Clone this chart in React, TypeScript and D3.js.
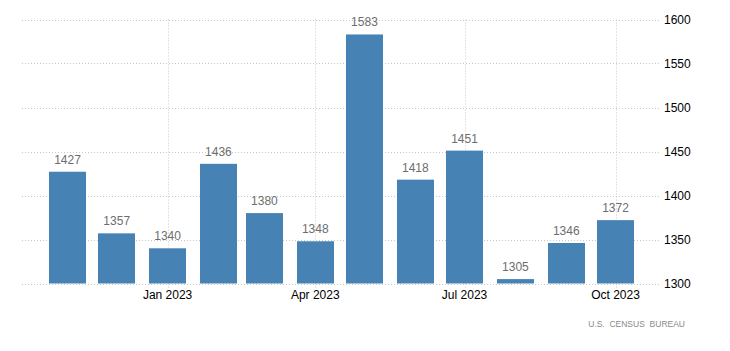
import React from "react";
import * as d3 from "d3";

const months = ["2022-11-01","2022-12-01","2023-01-01","2023-02-01","2023-03-01","2023-04-01","2023-05-01","2023-06-01","2023-07-01","2023-08-01","2023-09-01","2023-10-01"];
const values = [1427,1357,1340,1436,1380,1348,1583,1418,1451,1305,1346,1372];
const xTicks = ["2023-01-01","2023-04-01","2023-07-01","2023-10-01"];
const xTickLabels = ["Jan 2023","Apr 2023","Jul 2023","Oct 2023"];
const yTicks = [1300,1350,1400,1450,1500,1550,1600];
const source = "U.S.  CENSUS  BUREAU";

const W = 730, H = 351;
const FONT = "Arial, 'Liberation Sans', sans-serif";
const parse = d3.utcParse("%Y-%m-%d");

export default function App() {
  const x = d3.scaleUtc().domain([parse(months[0])!, parse(months[months.length - 1])!]).range([67.5, 615.5]);
  const y = d3.scaleLinear().domain([1300, 1600]).range([283.5, 19.5]);
  const bw = 37;
  const gridX0 = 22, gridX1 = 660;
  return (
    <svg width={W} height={H} style={{ position: "absolute", left: 0, top: 0, background: "#fff" }}>
      <g>
        {yTicks.map((t) => (
          <line key={t} x1={gridX0} x2={gridX1} y1={Math.round(y(t)) + 0.5} y2={Math.round(y(t)) + 0.5}
            stroke="#c8c8c8" strokeWidth={1} strokeDasharray="1,2" />
        ))}
        {xTicks.map((m) => {
          const cx = Math.round(x(parse(m)!)) + 0.5;
          return <line key={m} x1={cx} x2={cx} y1={y(1600)} y2={y(1300) + 5} stroke="#c8c8c8" strokeWidth={1} strokeDasharray="1,2" />;
        })}
      </g>
      <g>
        {months.map((m, i) => {
          const cx = x(parse(m)!);
          return <rect key={m} x={Math.round(cx - bw / 2)} y={y(values[i])} width={bw} height={y(1300) - y(values[i])} fill="#4682b4" />;
        })}
      </g>
      <g fontFamily={FONT} fontSize={12} fill="#6d6d6d" textAnchor="middle">
        {months.map((m, i) => (
          <text key={m} x={x(parse(m)!)} y={y(values[i]) - 8}>{values[i]}</text>
        ))}
      </g>
      <g fontFamily={FONT} fontSize={12} fill="#000" textAnchor="middle">
        {xTicks.map((m, i) => (
          <text key={m} x={x(parse(m)!)} y={299}>{xTickLabels[i]}</text>
        ))}
      </g>
      <g fontFamily={FONT} fontSize={12} fill="#000" textAnchor="start">
        {yTicks.map((t) => (
          <text key={t} x={664} y={y(t) + 4}>{t}</text>
        ))}
      </g>
      <text x={685} y={327} textAnchor="end" fontFamily={FONT} fontSize={8.5} fill="#8a8a8a" style={{ whiteSpace: "pre" }}>{source}</text>
    </svg>
  );
}
